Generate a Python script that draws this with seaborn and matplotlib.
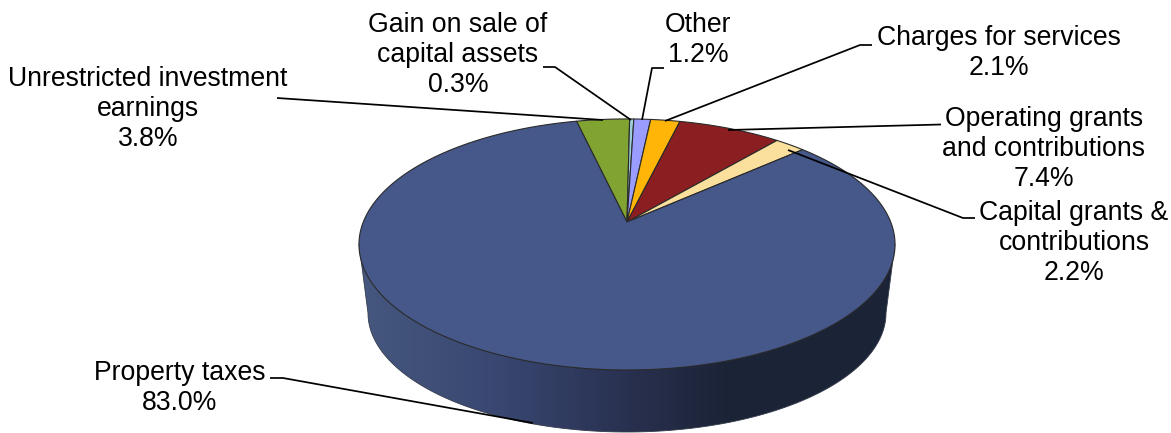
import numpy as np
import seaborn as sns
import matplotlib.pyplot as plt
from matplotlib.colors import LinearSegmentedColormap
from matplotlib.patches import Polygon

# clockwise from the green slice
labels = ['Unrestricted investment\nearnings', 'Gain on sale of\ncapital assets', 'Other',
          'Charges for services', 'Operating grants\nand contributions',
          'Capital grants &\ncontributions', 'Property taxes']
shares = [3.8, 0.3, 1.2, 2.1, 7.4, 2.2, 83.0]
slice_colors = ['#80a332', '#9ccfd9', '#9a9dff', '#ffb508', '#8b1e20', '#fbdf9c', '#46588a']

label_pos = [(148, 109), (458, 55), (698, 40), (999, 53), (1044, 149.5), (1074, 243), (180, 388)]
leaders = [
    [(277, 98), (603, 120)],
    [(543, 67), (555, 67), (631, 120)],
    [(664, 68), (652, 68), (642, 120)],
    [(872, 45), (860, 45), (665, 121)],
    [(941, 124.5), (728, 130)],
    [(975, 218), (963, 218), (788, 150)],
    [(270, 378), (283, 378), (533, 423)],
]

APEX_X, APEX_Y = 627, 222
START_DEG = -13.0
# perspective of the disc: near edge is bigger than the far edge
K, A, C = 0.179, 263.7, 121.5


def _rim(theta_deg):
    t = np.radians(theta_deg)
    u, v = np.sin(t), np.cos(t)
    w = 1 + K * v
    return APEX_X + A * u / w, APEX_Y - C * v / w


def _ellipse(cx, cy, rx, ry, t):
    return cx + rx * np.cos(t), cy + ry * np.sin(t)


def draw_side(ax):
    t = np.linspace(np.pi, 0, 200)
    x, y = _ellipse(627, 313, 259, 119, t)
    pts = np.column_stack([np.r_[359, x, 895], np.r_[244, y, 244]])
    clip = Polygon(pts, closed=True, fc='none', ec='#333a4a', lw=0.6, zorder=2)
    ax.add_patch(clip)

    cmap = LinearSegmentedColormap.from_list('side', [
        (0.0, '#46587f'), (0.27, '#384670'), (0.52, '#272f4d'), (0.68, '#1c2438'), (1.0, '#1b2336')])
    grad = np.linspace(0, 1, 512).reshape(1, -1)
    im = ax.imshow(grad, cmap=cmap, extent=(359, 895, 433, 244), aspect='auto', zorder=1)
    im.set_clip_path(clip)


def draw_slices(ax):
    edges = START_DEG + np.r_[0, np.cumsum(shares)] * 3.6
    for i, color in enumerate(slice_colors):
        theta = np.linspace(edges[i], edges[i + 1], max(int(shares[i] * 8), 4))
        x, y = _rim(theta)
        ax.fill(np.r_[APEX_X, x], np.r_[APEX_Y, y], fc=color, ec='#2a2a2a', lw=0.8,
                joinstyle='round', zorder=3)


def draw_labels(ax):
    for label, share, pos in zip(labels, shares, label_pos):
        ax.text(pos[0], pos[1], f'{label}\n{share:.1f}%', ha='center', va='center',
                fontsize=19.2, linespacing=1.2, color='black', zorder=6)
    for pts in leaders:
        xs, ys = zip(*pts)
        ax.plot(xs, ys, color='black', lw=1.25, solid_capstyle='butt', zorder=5)


sns.set_theme(style='white')
plt.rcParams['font.family'] = ['Liberation Sans', 'DejaVu Sans']

fig = plt.figure(figsize=(11.71, 4.33), dpi=100)
ax = fig.add_axes([0, 0, 1, 1])
draw_side(ax)
draw_slices(ax)
draw_labels(ax)
ax.set_xlim(0, 1171)
ax.set_ylim(433, 0)
ax.axis('off')

fig.savefig('out.png', dpi=100)
